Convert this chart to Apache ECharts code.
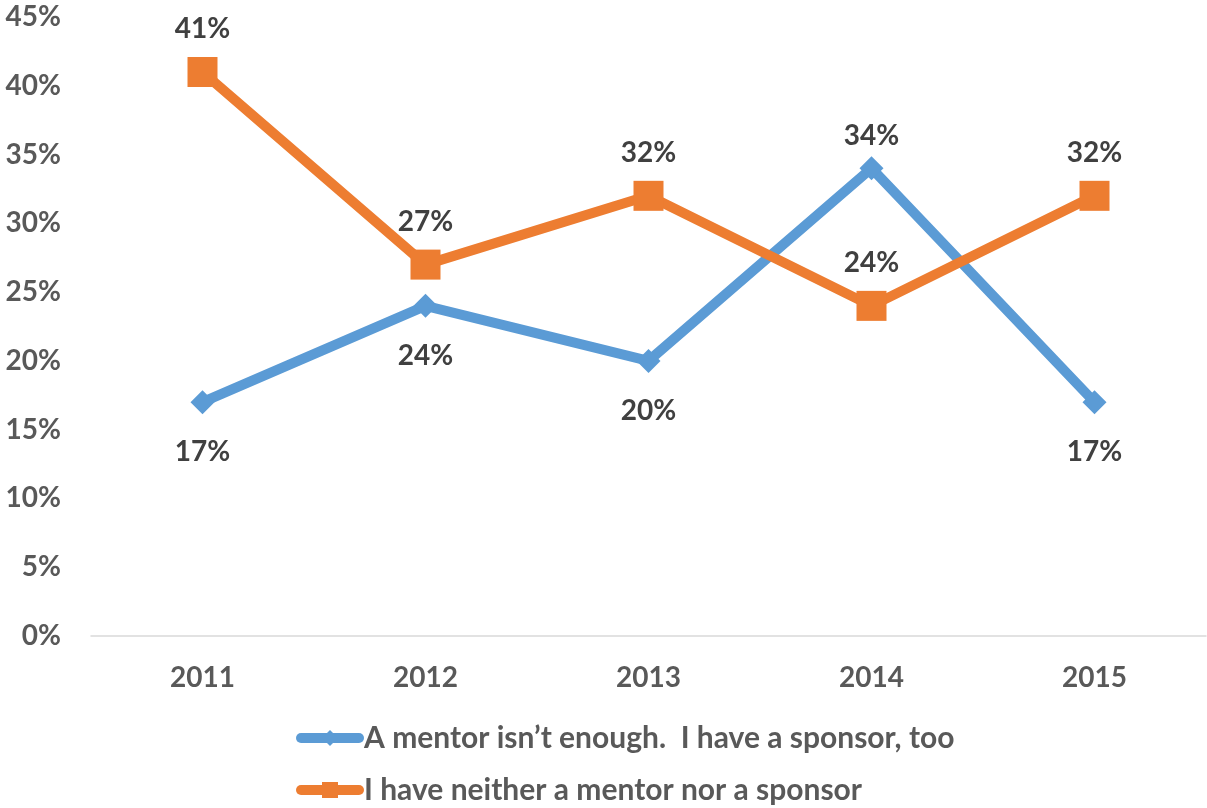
<!DOCTYPE html>
<html>
<head>
<meta charset="utf-8">
<script src="https://cdn.jsdelivr.net/npm/echarts@6/dist/echarts.min.js"></script>
<style>
  html, body { margin: 0; padding: 0; background: #fff; }
  #chart { width: 1207px; height: 808px; }
</style>
</head>
<body>
<div id="chart"></div>
<script>
const years = ['2011', '2012', '2013', '2014', '2015']
const mentorOnly = [17, 24, 20, 34, 17]
const neither = [41, 27, 32, 24, 32]
const seriesNames = ['A mentor isn’t enough.  I have a sponsor, too', 'I have neither a mentor nor a sponsor']
// blue labels sit below except where the line peaks
const mentorLabelPos = ['bottom', 'bottom', 'bottom', 'top', 'bottom']

const font = 'Lato, "Open Sans", sans-serif'
const chart = echarts.init(document.getElementById('chart'))

// one legend per row, both starting at the same left edge
const legendBase = {
  left: 291,
  itemWidth: 58,
  itemHeight: 20,
  lineStyle: { width: 10, cap: 'round' },
  textStyle: { fontFamily: font, fontSize: 30, fontWeight: 'bold', color: '#595959' }
}

const option = {
  animation: false,
  grid: { left: 91, right: 1, top: 17, bottom: 172 },
  legend: [
    { ...legendBase, top: 718, data: [seriesNames[0]] },
    { ...legendBase, top: 770, data: [seriesNames[1]] }
  ],
  xAxis: {
    type: 'category',
    data: years,
    axisLine: { lineStyle: { color: '#D9D9D9', width: 1.5 } },
    axisTick: { show: false },
    axisLabel: { fontFamily: font, fontSize: 28, fontWeight: 'bold', color: '#595959', margin: 28 }
  },
  yAxis: {
    type: 'value',
    min: 0,
    max: 45,
    interval: 5,
    splitLine: { show: false },
    axisLabel: {
      fontFamily: font, fontSize: 28, fontWeight: 'bold', color: '#595959',
      margin: 30, formatter: '{value}%'
    }
  },
  series: [
    {
      name: seriesNames[0],
      type: 'line',
      data: mentorOnly.map((v, i) => ({
        value: v,
        label: { position: mentorLabelPos[i], distance: mentorLabelPos[i] === 'top' ? 6 : 24 }
      })),
      symbol: 'diamond',
      symbolSize: 24,
      lineStyle: { color: '#5B9BD5', width: 10 },
      itemStyle: { color: '#5B9BD5' },
      label: {
        show: true,
        formatter: '{c}%',
        fontFamily: font, fontSize: 28, fontWeight: 'bold', color: '#404040'
      },
      z: 2
    },
    {
      name: seriesNames[1],
      type: 'line',
      data: neither,
      symbol: 'rect',
      symbolSize: 30,
      lineStyle: { color: '#ED7D31', width: 10 },
      itemStyle: { color: '#ED7D31' },
      label: {
        show: true,
        position: 'top',
        distance: 14,
        formatter: '{c}%',
        fontFamily: font, fontSize: 28, fontWeight: 'bold', color: '#404040'
      },
      z: 3
    }
  ]
}
chart.setOption(option)
</script>
</body>
</html>
